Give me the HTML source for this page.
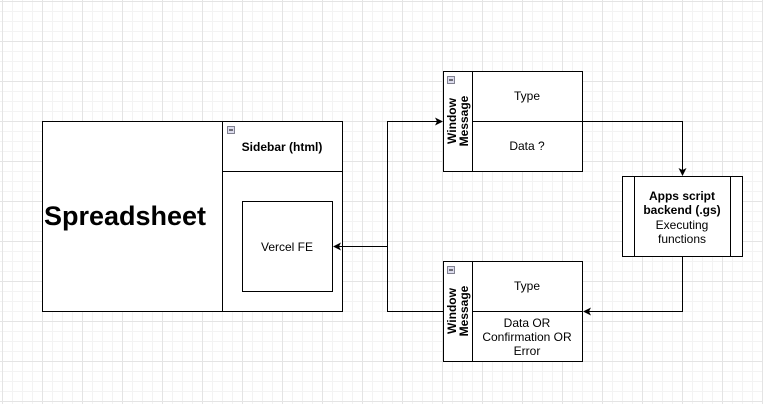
<!DOCTYPE html>
<html><head><style>
body{margin:0;width:763px;height:404px;overflow:hidden;background:#fff;}
svg{display:block}
text{font-family:"Liberation Sans",Arial,sans-serif;fill:#000}
</style></head><body>
<svg width="763" height="404" viewBox="0 0 763 404">
<defs>
<pattern id="minor" x="2" y="1" width="10" height="10" patternUnits="userSpaceOnUse">
<path d="M0 0.5H10M0.5 0V10" stroke="#f3f3f3" stroke-width="1" fill="none"/>
</pattern>
<pattern id="major" x="2" y="1" width="40" height="40" patternUnits="userSpaceOnUse">
<path d="M0 0.5H40M0.5 0V40" stroke="#e4e4e4" stroke-width="1" fill="none"/>
</pattern>
</defs>
<rect width="763" height="404" fill="url(#minor)"/>
<rect width="763" height="404" fill="url(#major)"/>
<g stroke="#000" stroke-width="1" fill="#fff">
<rect x="42.5" y="121.5" width="300" height="190"/>
<line x1="222.5" y1="121.5" x2="222.5" y2="311.5"/>
<line x1="222.5" y1="171.5" x2="342.5" y2="171.5"/>
<rect x="242.5" y="201.5" width="90" height="90"/>
<rect x="443.5" y="71.5" width="139" height="100"/>
<line x1="472.5" y1="71.5" x2="472.5" y2="171.5"/>
<line x1="472.5" y1="121.5" x2="582.5" y2="121.5"/>
<rect x="443.5" y="261.5" width="139" height="100"/>
<line x1="472.5" y1="261.5" x2="472.5" y2="361.5"/>
<line x1="472.5" y1="311.5" x2="582.5" y2="311.5"/>
<rect x="622.5" y="176.5" width="120" height="80"/>
<line x1="634.5" y1="176.5" x2="634.5" y2="256.5"/>
<line x1="730.5" y1="176.5" x2="730.5" y2="256.5"/>
</g>
<g fill="#dde" stroke="#667" stroke-width="0.8">
<rect x="227.5" y="126.5" width="7" height="7"/>
<rect x="447.5" y="76.5" width="7" height="7"/>
<rect x="447.5" y="266.5" width="7" height="7"/>
</g>
<g stroke="#000" stroke-width="1">
<line x1="229" y1="130" x2="233" y2="130"/>
<line x1="449" y1="80" x2="453" y2="80"/>
<line x1="449" y1="270" x2="453" y2="270"/>
</g>
<g stroke="#000" stroke-width="1" fill="none">
<path d="M387.5 246.5H336"/>
<path d="M387.5 246.5V121.5H438"/>
<path d="M387.5 246.5V311.5H443"/>
<path d="M582 121.5H682.5V171"/>
<path d="M682.5 256.5V311.5H587"/>
</g>
<g fill="#000">
<path d="M333 246.5l8-4-2 4 2 4z"/>
<path d="M443 121.5l-8-4 2 4-2 4z"/>
<path d="M682.5 176l-4-8 4 2 4-2z"/>
<path d="M583 311.5l8-4-2 4 2 4z"/>
</g>
<text x="125" y="225" font-size="27" font-weight="bold" text-anchor="middle">Spreadsheet</text>
<text x="282" y="151" font-size="12" font-weight="bold" text-anchor="middle">Sidebar (html)</text>
<text x="287" y="251" font-size="12" text-anchor="middle">Vercel FE</text>
<text x="527" y="100" font-size="12" text-anchor="middle">Type</text>
<text x="527" y="150" font-size="12" text-anchor="middle">Data ?</text>
<text x="527" y="290" font-size="12" text-anchor="middle">Type</text>
<text x="527" y="327" font-size="12" text-anchor="middle">Data OR</text>
<text x="527" y="341" font-size="12" text-anchor="middle">Confirmation OR</text>
<text x="527" y="355" font-size="12" text-anchor="middle">Error</text>
<text transform="translate(456,121) rotate(-90)" font-size="12" font-weight="bold" text-anchor="middle">Window</text>
<text transform="translate(468,121) rotate(-90)" font-size="12" font-weight="bold" text-anchor="middle">Message</text>
<text transform="translate(456,311) rotate(-90)" font-size="12" font-weight="bold" text-anchor="middle">Window</text>
<text transform="translate(468,311) rotate(-90)" font-size="12" font-weight="bold" text-anchor="middle">Message</text>
<text x="682" y="200" font-size="12" font-weight="bold" text-anchor="middle">Apps script</text>
<text x="682" y="214" font-size="12" font-weight="bold" text-anchor="middle">backend (.gs)</text>
<text x="682" y="229" font-size="12" text-anchor="middle">Executing</text>
<text x="682" y="243" font-size="12" text-anchor="middle">functions</text>
</svg>
</body></html>
